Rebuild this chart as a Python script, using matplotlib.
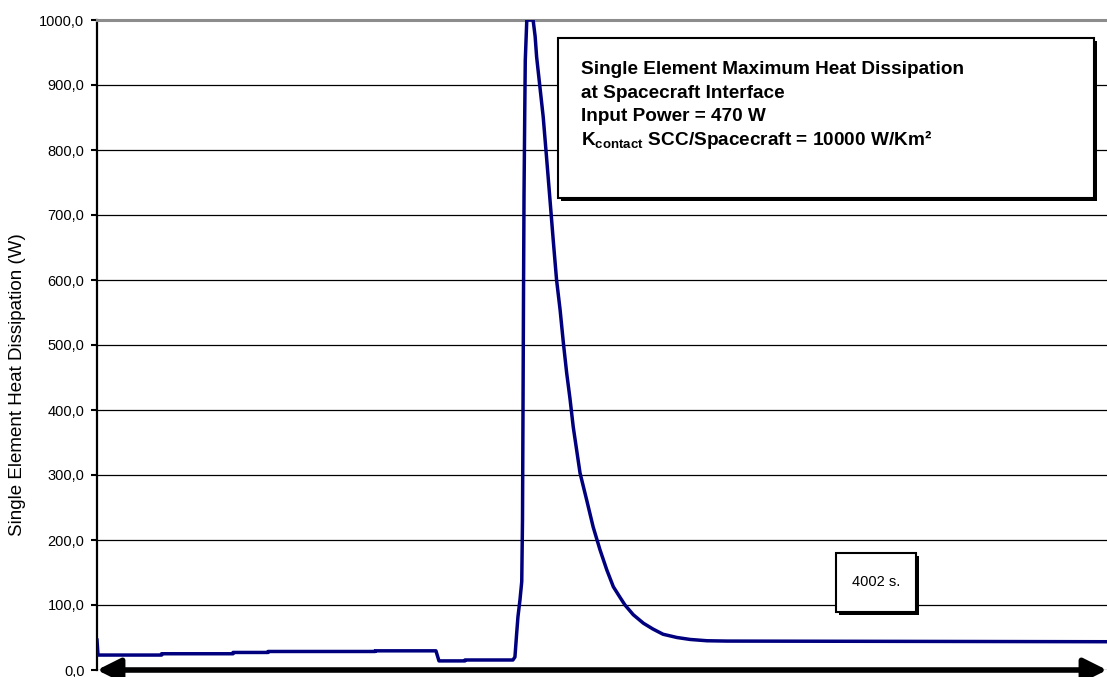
import matplotlib
matplotlib.use("Agg")
import matplotlib.pyplot as plt
from matplotlib.patches import Rectangle
from matplotlib.ticker import FuncFormatter

plt.rcParams['font.family'] = ['Liberation Sans', 'DejaVu Sans']
plt.rcParams['mathtext.fontset'] = 'custom'
plt.rcParams['mathtext.rm'] = 'Liberation Sans:bold'

# time (s) and heat dissipation (W)
time_s = [0, 4, 256, 256, 539, 539, 678, 678, 1102, 1102, 1343, 1355, 1458, 1458,
          1648, 1656, 1663, 1668, 1676, 1683, 1686, 1688, 1690, 1692, 1695, 1697,
          1703, 1728, 1736, 1742, 1755, 1768, 1781, 1795, 1808, 1821, 1835, 1848,
          1861, 1874, 1887, 1914, 1940, 1966, 1993, 2020, 2046, 2072, 2092, 2125,
          2165, 2203, 2243, 2298, 2350, 2417, 2496, 4002]
heat_w = [46, 23, 23, 25, 25, 27, 27, 28.5, 28.5, 29.5, 29.5, 14, 14, 15.4,
          15.4, 20, 57, 82, 108, 136, 231, 400, 580, 730, 862, 938,
          1000, 1000, 975, 943, 897, 851, 790, 723, 660, 600, 554, 503,
          457, 418, 374, 303, 262, 220, 185, 154, 128, 112, 100, 85,
          72, 63, 55, 50, 47, 45, 44.5, 43.5]
y_ticks = [0, 100, 200, 300, 400, 500, 600, 700, 800, 900, 1000]
total_time = 4002

W, H = 1107, 677
fig = plt.figure(figsize=(W / 100, H / 100), dpi=100)
ax = fig.add_axes([97 / W, 7 / H, 1010 / W, 650 / H])

ax.plot(time_s, heat_w, color='#00007f', lw=2.5, zorder=3)

ax.set_xlim(0, total_time)
ax.set_ylim(0, 1000)
ax.set_yticks(y_ticks)
ax.yaxis.set_major_formatter(FuncFormatter(lambda v, p: f"{v:.1f}".replace('.', ',')))
ax.set_xticks([])
ax.tick_params(axis='y', direction='out', length=4, width=1.5, pad=5, labelsize=10.5)
ax.yaxis.grid(True, color='black', lw=0.9)

for s in ['right', 'bottom']:
    ax.spines[s].set_visible(False)
ax.spines['left'].set_linewidth(1.6)
ax.spines['top'].set_color('#8c8c8c')
ax.spines['top'].set_linewidth(2.2)

# time span arrow along the bottom
ax.annotate('', xy=(1, 0), xytext=(0, 0), xycoords='axes fraction',
            arrowprops=dict(arrowstyle='<|-|>,head_length=0.7,head_width=0.35',
                            color='black', lw=4, mutation_scale=20,
                            shrinkA=0, shrinkB=0),
            annotation_clip=False, zorder=5)

fig.text(18 / W, 1 - 385 / H, 'Single Element Heat Dissipation (W)',
         rotation=90, ha='center', va='center', fontsize=13.5)


def shadow_box(x0, y0, x1, y1):
    # pixel coords from top-left
    fig.patches.append(Rectangle((x0 / W + 3 / W, 1 - y1 / H - 3 / H), (x1 - x0) / W, (y1 - y0) / H,
                                 transform=fig.transFigure, facecolor='black',
                                 edgecolor='none', zorder=6))
    fig.patches.append(Rectangle((x0 / W, 1 - y1 / H), (x1 - x0) / W, (y1 - y0) / H,
                                 transform=fig.transFigure, facecolor='white',
                                 edgecolor='black', lw=1.5, zorder=7))


shadow_box(558, 38, 1094, 198)
lines = ['Single Element Maximum Heat Dissipation',
         'at Spacecraft Interface',
         'Input Power = 470 W',
         r'$\mathrm{K_{contact}}$ SCC/Spacecraft = 10000 W/Km²']
for i, txt in enumerate(lines):
    fig.text(581 / W, 1 - (70 + 23.3 * i) / H, txt, ha='left', va='center',
             fontsize=13.7, fontweight='bold', zorder=8)

shadow_box(836, 553, 916, 612)
fig.text(876 / W, 1 - 582 / H, '4002 s.', ha='center', va='center', fontsize=10.5, zorder=8)

fig.savefig('out.png', dpi=100)
